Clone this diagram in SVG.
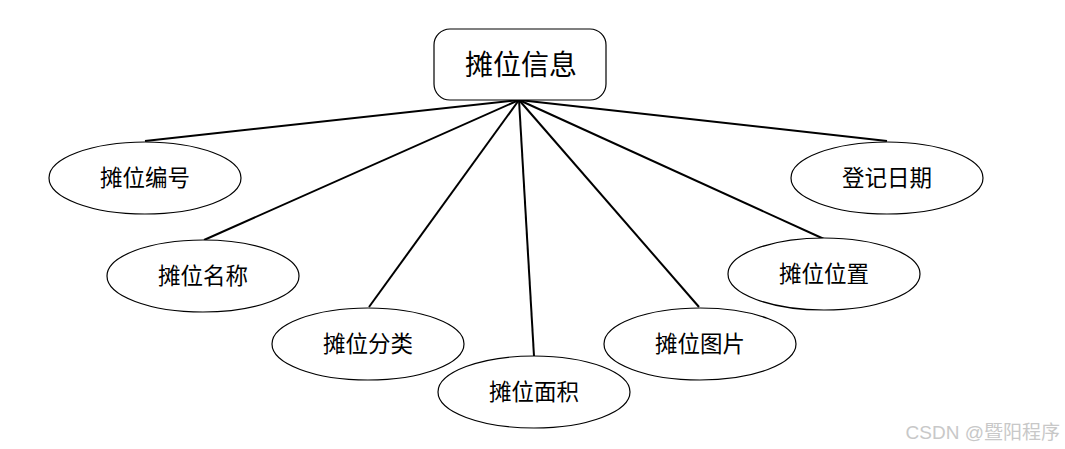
<svg xmlns="http://www.w3.org/2000/svg" width="1065" height="449" viewBox="0 0 1065 449">
<style>
.n{fill:#fff;stroke:#000;stroke-width:1.2}
.t{font-family:"Liberation Serif","Noto Sans CJK SC",serif;font-size:22.5px;text-anchor:middle;dominant-baseline:central;fill:#000}
.c line{stroke:#000;stroke-width:2}
</style>
<rect width="1065" height="449" fill="#fff"/>
<g class="c" id="connectors">
<line x1="519" y1="100" x2="145" y2="141"/>
<line x1="519" y1="100" x2="204" y2="240"/>
<line x1="519" y1="100" x2="369" y2="307"/>
<line x1="519" y1="100" x2="534" y2="356"/>
<line x1="519" y1="100" x2="699" y2="307"/>
<line x1="519" y1="100" x2="824" y2="239"/>
<line x1="519" y1="100" x2="887" y2="141"/>
</g>
<g id="root"><rect class="n" x="434" y="29" width="172" height="71" rx="16"/><text class="t" x="521" y="65" style="font-size:28px">摊位信息</text></g>
<g id="n1"><ellipse class="n" cx="145" cy="178" rx="96" ry="36"/><text class="t" x="145" y="178">摊位编号</text></g>
<g id="n2"><ellipse class="n" cx="203" cy="276" rx="96" ry="36"/><text class="t" x="203" y="276">摊位名称</text></g>
<g id="n3"><ellipse class="n" cx="368" cy="344" rx="96" ry="36"/><text class="t" x="368" y="344">摊位分类</text></g>
<g id="n4"><ellipse class="n" cx="534" cy="392" rx="96" ry="36"/><text class="t" x="534" y="392">摊位面积</text></g>
<g id="n5"><ellipse class="n" cx="700" cy="344" rx="96" ry="36"/><text class="t" x="700" y="344">摊位图片</text></g>
<g id="n6"><ellipse class="n" cx="824" cy="274" rx="96" ry="36"/><text class="t" x="824" y="274">摊位位置</text></g>
<g id="n7"><ellipse class="n" cx="887" cy="178" rx="96" ry="36"/><text class="t" x="887" y="178">登记日期</text></g>
<text x="1060" y="432" style="font-family:'Liberation Sans','Noto Sans CJK SC',sans-serif;font-size:19px;fill:#c8c8c8;text-anchor:end;dominant-baseline:central">CSDN @暨阳程序</text>
</svg>
